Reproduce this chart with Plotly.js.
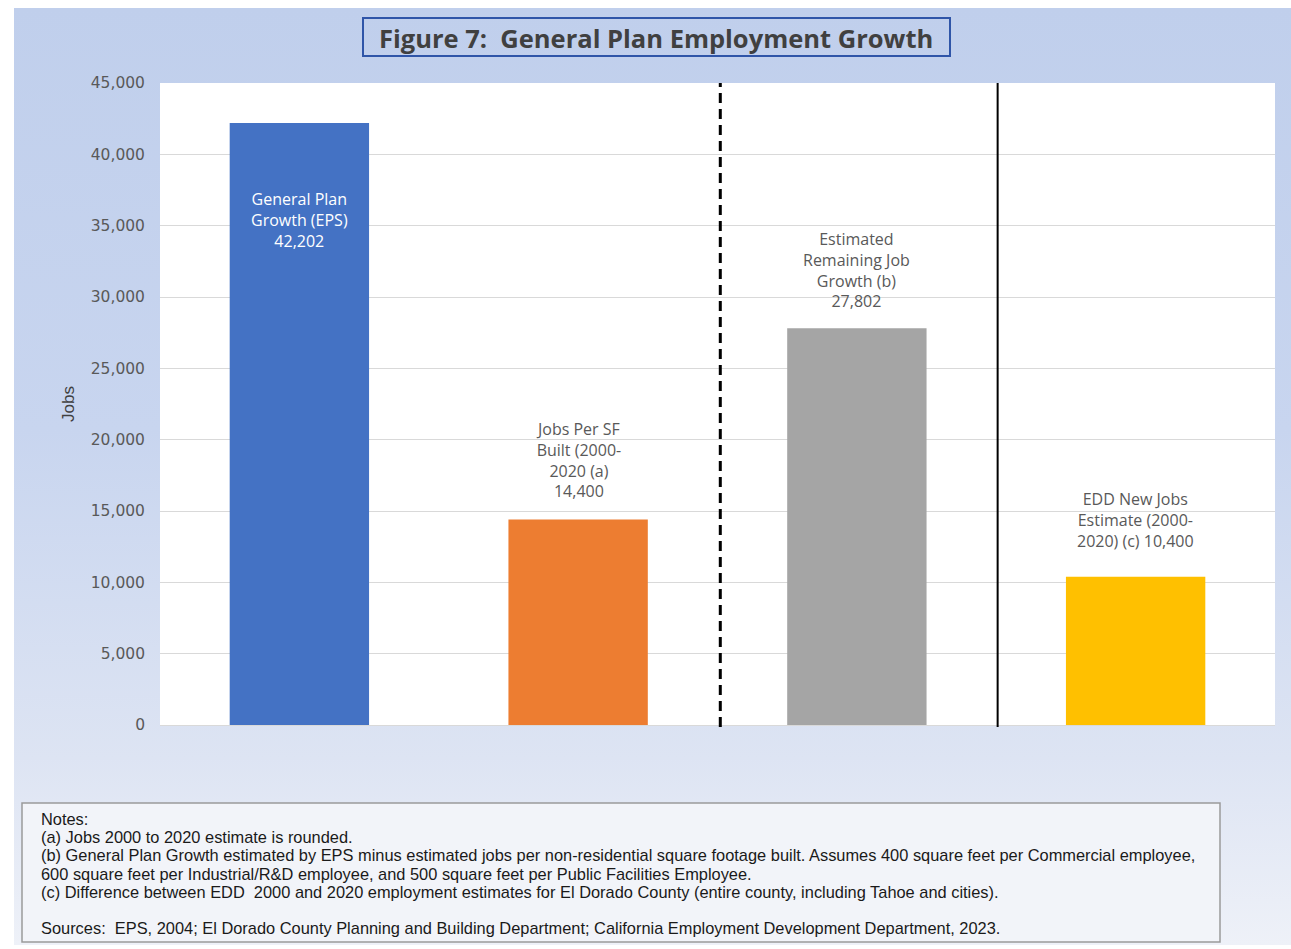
<!DOCTYPE html>
<html>
<head>
<meta charset="utf-8">
<script src="https://cdn.plot.ly/plotly-3.0.1.min.js"></script>
<style>
  html, body { margin: 0; padding: 0; background: #ffffff; }
  #panel { position: absolute; left: 14px; top: 8px; width: 1277px; height: 937px;
    background: linear-gradient(to bottom, #c0cfec 0%, #c8d5ef 45%, #dde4f3 80%, #eef1f8 100%); }
  #chart { position: absolute; left: 0; top: 0; width: 1291px; height: 949px; }
</style>
</head>
<body>
<div id="panel"></div>
<div id="chart"></div>
<script>
const categories = ['General Plan Growth (EPS)', 'Jobs Per SF Built (2000-2020 (a)', 'Estimated Remaining Job Growth (b)', 'EDD New Jobs Estimate (2000-2020) (c)'];
const jobs = [42202, 14400, 27802, 10400];
const barColors = ['#4472C4', '#ED7D31', '#A5A5A5', '#FFC000'];
const labelPrefixes = [
  ['General Plan', 'Growth (EPS)'],
  ['Jobs Per SF', 'Built (2000-', '2020 (a)'],
  ['Estimated', 'Remaining Job', 'Growth (b)'],
  ['EDD New Jobs', 'Estimate (2000-', '2020) (c)']
];
const valueOnOwnLine = [true, true, true, false];
const labelInside = [true, false, false, false];
const yTicks = [0, 5000, 10000, 15000, 20000, 25000, 30000, 35000, 40000, 45000];
const titleText = 'Figure 7:  General Plan Employment Growth';
const yTitle = 'Jobs';
const notesLines = [
  'Notes:',
  '(a) Jobs 2000 to 2020 estimate is rounded.',
  '(b) General Plan Growth estimated by EPS minus estimated jobs per non-residential square footage built. Assumes 400 square feet per Commercial employee,',
  '600 square feet per Industrial/R&D employee, and 500 square feet per Public Facilities Employee.',
  '(c) Difference between EDD  2000 and 2020 employment estimates for El Dorado County (entire county, including Tahoe and cities).',
  '',
  'Sources:  EPS, 2004; El Dorado County Planning and Building Department; California Employment Development Department, 2023.'
];

// plot area geometry (pixels)
const L = 160, R = 1275, T = 83, B = 725;
const W = 1291, H = 949;
const px = x => (x - L) / (R - L);
const py = y => (B - y) / (B - T);

const fmt = v => v.toLocaleString('en-US');
const labelShift = [-63, 16, 14, 23];

const annotations = [];
categories.forEach((c, i) => {
  const lines = labelPrefixes[i].slice();
  if (valueOnOwnLine[i]) lines.push(fmt(jobs[i]));
  else lines[lines.length - 1] += ' ' + fmt(jobs[i]);
  annotations.push({
    x: c, y: jobs[i], xref: 'x', yref: 'y',
    text: lines.join('<br>'), showarrow: false,
    xanchor: 'center', yanchor: labelInside[i] ? 'top' : 'bottom',
    yshift: labelShift[i],
    align: 'center',
    font: {family: 'Open Sans, sans-serif', size: 16, color: labelInside[i] ? '#ffffff' : '#595959'}
  });
});

// title
annotations.push({
  x: px(656), y: py(38), xref: 'paper', yref: 'paper', text: '<b>' + titleText + '</b>',
  showarrow: false, xanchor: 'center', yanchor: 'middle',
  font: {family: 'Open Sans, sans-serif', size: 25.5, color: '#404040'}
});

// y title
annotations.push({
  x: px(68), y: py(404), xref: 'paper', yref: 'paper', text: yTitle, textangle: -90,
  showarrow: false, xanchor: 'center', yanchor: 'middle',
  font: {family: 'Liberation Sans, Arial, sans-serif', size: 17, color: '#404040'}
});

// notes
const notesTop = 819, notesStep = 18.2;
notesLines.forEach((t, k) => {
  if (!t) return;
  annotations.push({
    x: px(39), y: py(notesTop + k * notesStep), xref: 'paper', yref: 'paper', text: t.replace(/&/g, '&amp;'),
    showarrow: false, xanchor: 'left', yanchor: 'middle', align: 'left',
    font: {family: 'Liberation Sans, Arial, sans-serif', size: 16.4, color: '#1a1a1a'}
  });
});

const shapes = [
  // title box
  {type: 'rect', xref: 'paper', yref: 'paper', x0: px(363), x1: px(950), y0: py(56), y1: py(18),
   line: {color: '#2F55A8', width: 2}, fillcolor: 'rgba(0,0,0,0)', layer: 'above'},
  // notes box
  {type: 'rect', xref: 'paper', yref: 'paper', x0: px(22), x1: px(1220), y0: py(803), y1: py(942),
   line: {color: '#9a9a9a', width: 1.5}, fillcolor: '#f2f4f9', layer: 'below'},
  // separators
  {type: 'line', xref: 'x', yref: 'paper', x0: 1.51, x1: 1.51, y0: py(727), y1: py(83),
   line: {color: '#000000', width: 3, dash: '10px,6px'}},
  {type: 'line', xref: 'x', yref: 'paper', x0: 2.505, x1: 2.505, y0: py(727), y1: py(83),
   line: {color: '#000000', width: 2}}
];

const trace = {
  type: 'bar', x: categories, y: jobs,
  marker: {color: barColors, line: {width: 0}},
  hoverinfo: 'x+y'
};

const layout = {
  width: W, height: H,
  margin: {l: L, r: W - R, t: T, b: H - B, pad: 0},
  paper_bgcolor: 'rgba(0,0,0,0)',
  plot_bgcolor: '#ffffff',
  showlegend: false,
  bargap: 0.5,
  xaxis: {type: 'category', showticklabels: false, showgrid: false, zeroline: false, showline: false, ticks: '', fixedrange: true},
  yaxis: {range: [0, 45000], tickvals: yTicks, ticktext: yTicks.map(fmt), showgrid: true, gridcolor: '#d9d9d9', gridwidth: 1,
          zeroline: true, zerolinecolor: '#d9d9d9', zerolinewidth: 1, showline: false, ticks: '', ticklabelstandoff: 14,
          tickfont: {family: 'DejaVu Sans, sans-serif', size: 15.5, color: '#595959'}, fixedrange: true},
  annotations: annotations,
  shapes: shapes
};

Plotly.newPlot('chart', [trace], layout, {displayModeBar: false, staticPlot: true});
</script>
</body>
</html>
